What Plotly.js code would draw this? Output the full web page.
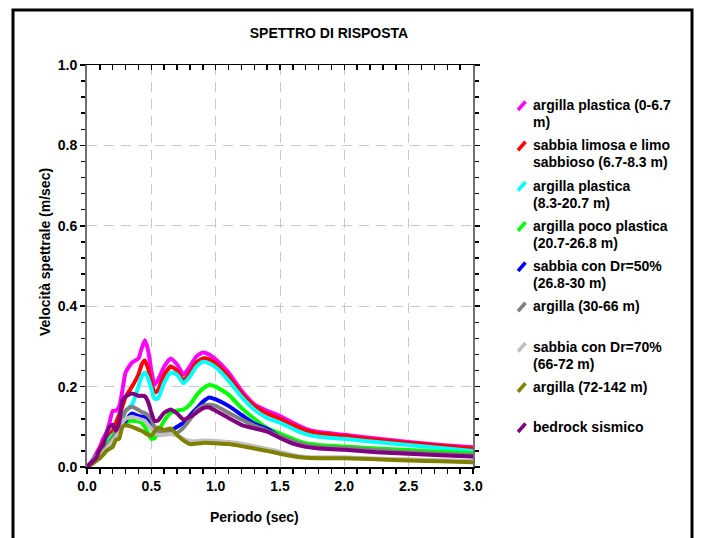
<!DOCTYPE html>
<html>
<head>
<meta charset="utf-8">
<script src="https://cdn.plot.ly/plotly-3.0.1.min.js"></script>
<style>
  html, body { margin: 0; padding: 0; background: #fff; }
  #chart { width: 701px; height: 538px; }
</style>
</head>
<body>
<div id="chart"></div>
<script>
// Periodo (s)
const periods = [0, 0.025, 0.05, 0.075, 0.1, 0.125, 0.15, 0.175, 0.2, 0.225, 0.25, 0.275, 0.3, 0.35, 0.4, 0.425, 0.45, 0.475, 0.5, 0.525, 0.55, 0.6, 0.65, 0.7, 0.75, 0.8, 0.85, 0.9, 0.95, 1.0, 1.1, 1.2, 1.3, 1.4, 1.5, 1.6, 1.7, 1.8, 2.0, 2.25, 2.5, 2.75, 3.0];

// Velocità spettrale (m/s) per strato
const argillaPlastica0 = [0, 0.01, 0.02, 0.035, 0.05, 0.07, 0.085, 0.11, 0.14, 0.14, 0.15, 0.19, 0.235, 0.26, 0.27, 0.295, 0.315, 0.29, 0.24, 0.205, 0.215, 0.25, 0.27, 0.255, 0.23, 0.25, 0.275, 0.285, 0.28, 0.268, 0.235, 0.19, 0.156, 0.14, 0.127, 0.11, 0.095, 0.087, 0.08, 0.071, 0.062, 0.055, 0.049];
const sabbiaLimosa = [0, 0.008, 0.018, 0.03, 0.045, 0.06, 0.07, 0.08, 0.09, 0.11, 0.13, 0.15, 0.175, 0.2, 0.23, 0.255, 0.265, 0.245, 0.21, 0.185, 0.19, 0.23, 0.25, 0.24, 0.215, 0.235, 0.26, 0.27, 0.268, 0.258, 0.225, 0.183, 0.152, 0.133, 0.12, 0.105, 0.091, 0.084, 0.077, 0.068, 0.06, 0.053, 0.046];
const argillaPlastica8 = [0, 0.008, 0.017, 0.028, 0.04, 0.05, 0.06, 0.07, 0.08, 0.085, 0.095, 0.12, 0.14, 0.155, 0.2, 0.225, 0.235, 0.22, 0.195, 0.17, 0.17, 0.21, 0.235, 0.23, 0.208, 0.225, 0.25, 0.262, 0.258, 0.248, 0.215, 0.175, 0.143, 0.122, 0.11, 0.095, 0.082, 0.075, 0.07, 0.062, 0.055, 0.047, 0.04];
const argillaPocoPlastica = [0, 0.007, 0.015, 0.025, 0.035, 0.045, 0.055, 0.065, 0.075, 0.09, 0.1, 0.108, 0.11, 0.115, 0.113, 0.11, 0.1, 0.085, 0.07, 0.072, 0.085, 0.115, 0.135, 0.14, 0.143, 0.155, 0.178, 0.195, 0.204, 0.2, 0.18, 0.147, 0.12, 0.097, 0.083, 0.07, 0.059, 0.055, 0.051, 0.046, 0.042, 0.038, 0.034];
const sabbiaDr50 = [0, 0.006, 0.013, 0.02, 0.03, 0.038, 0.045, 0.05, 0.055, 0.075, 0.09, 0.1, 0.115, 0.133, 0.127, 0.125, 0.124, 0.118, 0.105, 0.09, 0.087, 0.087, 0.09, 0.1, 0.11, 0.128, 0.145, 0.162, 0.173, 0.168, 0.152, 0.13, 0.108, 0.095, 0.075, 0.063, 0.053, 0.048, 0.045, 0.04, 0.035, 0.031, 0.027];
const argilla30 = [0, 0.006, 0.013, 0.02, 0.03, 0.04, 0.05, 0.06, 0.07, 0.085, 0.1, 0.12, 0.14, 0.15, 0.142, 0.137, 0.134, 0.128, 0.118, 0.1, 0.09, 0.086, 0.085, 0.085, 0.098, 0.118, 0.14, 0.152, 0.155, 0.152, 0.135, 0.118, 0.103, 0.09, 0.076, 0.064, 0.055, 0.05, 0.047, 0.042, 0.037, 0.033, 0.029];
const sabbiaDr70 = [0, 0.005, 0.011, 0.018, 0.027, 0.035, 0.045, 0.055, 0.065, 0.075, 0.09, 0.11, 0.12, 0.125, 0.12, 0.118, 0.115, 0.105, 0.095, 0.085, 0.08, 0.08, 0.082, 0.078, 0.07, 0.065, 0.064, 0.066, 0.066, 0.065, 0.062, 0.058, 0.052, 0.045, 0.038, 0.03, 0.025, 0.024, 0.024, 0.021, 0.019, 0.017, 0.015];
const argilla72 = [0, 0.005, 0.01, 0.016, 0.022, 0.03, 0.04, 0.045, 0.05, 0.068, 0.07, 0.1, 0.104, 0.1, 0.093, 0.09, 0.085, 0.08, 0.078, 0.088, 0.098, 0.092, 0.096, 0.08, 0.066, 0.057, 0.058, 0.06, 0.06, 0.059, 0.057, 0.052, 0.046, 0.04, 0.033, 0.027, 0.023, 0.022, 0.022, 0.019, 0.016, 0.014, 0.012];
const bedrock = [0, 0.008, 0.015, 0.025, 0.045, 0.055, 0.08, 0.1, 0.105, 0.09, 0.11, 0.165, 0.175, 0.183, 0.177, 0.177, 0.176, 0.162, 0.135, 0.115, 0.115, 0.135, 0.143, 0.133, 0.118, 0.125, 0.135, 0.146, 0.148, 0.14, 0.122, 0.105, 0.096, 0.088, 0.072, 0.058, 0.05, 0.046, 0.043, 0.037, 0.033, 0.029, 0.026];

const seriesNames = [
  'argilla plastica (0-6.7<br>m)',
  'sabbia limosa e limo<br>sabbioso (6.7-8.3 m)',
  'argilla plastica<br>(8.3-20.7 m)',
  'argilla poco plastica<br>(20.7-26.8 m)',
  'sabbia con Dr=50%<br>(26.8-30 m)',
  'argilla (30-66 m)',
  'sabbia con Dr=70%<br>(66-72 m)',
  'argilla (72-142 m)',
  'bedrock sismico'
];
const seriesColors = ['#ff00ff', '#ff0000', '#00ffff', '#00ff00', '#0000ff', '#808080', '#c0c0c0', '#808000', '#800080'];
const seriesValues = [argillaPlastica0, sabbiaLimosa, argillaPlastica8, argillaPocoPlastica, sabbiaDr50, argilla30, sabbiaDr70, argilla72, bedrock];

const xTickVals = [0, 0.5, 1.0, 1.5, 2.0, 2.5, 3.0];
const yTickVals = [0, 0.2, 0.4, 0.6, 0.8, 1.0];

// frame of the plotting area, in pixels
const FIG_W = 701, FIG_H = 538;
const PL = 87, PR = 473, PT = 65, PB = 467;
const fx = p => (p - PL) / (PR - PL);
const fy = p => (PB - p) / (PB - PT);

const FONT = 'Liberation Sans, Arial, Helvetica, sans-serif';
const boldFont = (size) => ({ family: FONT, size: size, color: '#000', weight: 'bold' });

const traces = seriesValues.map((vals, i) => ({
  type: 'scatter',
  mode: 'lines',
  x: periods,
  y: vals,
  name: seriesNames[i].replace('<br>', ' '),
  line: { color: seriesColors[i], width: 4, shape: 'spline', smoothing: 0.5 },
  showlegend: false,
  hoverinfo: 'skip'
}));
// carrier for the top axis
traces.push({ type: 'scatter', x: [], y: [], xaxis: 'x2', yaxis: 'y', showlegend: false, hoverinfo: 'skip' });

// legend drawn as short slanted strokes + bold labels
const shapes = [];
const annotations = [];
const rowStart = 105, rowStep = 40.25, lineGap = 17;
seriesNames.forEach((name, i) => {
  const yc = rowStart + i * rowStep;
  shapes.push({
    type: 'line', xref: 'paper', yref: 'paper',
    x0: fx(518), y0: fy(yc + 5), x1: fx(525.5), y1: fy(yc - 3.5),
    line: { color: seriesColors[i], width: 3.5 }
  });
  name.split('<br>').forEach((txt, k) => {
    annotations.push({
      xref: 'paper', yref: 'paper', x: fx(531), y: fy(yc + k * lineGap),
      xanchor: 'left', yanchor: 'middle', text: txt, showarrow: false,
      font: boldFont(14)
    });
  });
});

// outer frame
shapes.push({
  type: 'rect', xref: 'paper', yref: 'paper',
  x0: fx(13), x1: fx(692), y0: fy(600), y1: fy(10),
  line: { color: '#000', width: 3 }, fillcolor: 'rgba(0,0,0,0)'
});

// axis titles
annotations.push({
  xref: 'paper', yref: 'paper', x: fx(254), y: fy(517),
  xanchor: 'center', yanchor: 'middle', showarrow: false,
  text: 'Periodo (sec)', font: boldFont(14)
});
annotations.push({
  xref: 'paper', yref: 'paper', x: fx(45), y: fy(252),
  xanchor: 'center', yanchor: 'middle', showarrow: false, textangle: -90,
  text: 'Velocità spettrale (m/sec)', font: boldFont(14)
});

const layout = {
  width: FIG_W, height: FIG_H,
  margin: { l: PL, r: FIG_W - PR, t: PT, b: FIG_H - PB, pad: 0 },
  paper_bgcolor: '#fff', plot_bgcolor: '#fff',
  showlegend: false,
  title: {
    text: 'SPETTRO DI RISPOSTA',
    x: 329 / FIG_W, xanchor: 'center', xref: 'container',
    y: 1 - 33 / FIG_H, yanchor: 'middle', yref: 'container',
    font: boldFont(14)
  },
  xaxis: {
    range: [0, 3], tickvals: xTickVals, tickformat: '.1f',
    ticks: 'outside', ticklen: 5, tickwidth: 1.5, tickcolor: '#000',
    showline: true, linecolor: '#000', linewidth: 2,
    showgrid: true, gridcolor: '#c8c8c8', gridwidth: 1, griddash: '10px,7px',
    zeroline: false, tickfont: boldFont(14),
    minor: { dtick: 0.1, ticks: 'outside', ticklen: 5, tickwidth: 1.5, tickcolor: '#000', showgrid: false }
  },
  xaxis2: {
    overlaying: 'x', side: 'top', anchor: 'y', matches: 'x',
    range: [0, 3], tickvals: xTickVals,
    ticks: 'inside', ticklen: 5, tickwidth: 1.5, tickcolor: '#000',
    showline: true, linecolor: '#000', linewidth: 1.5,
    showgrid: false, zeroline: false, showticklabels: false,
    minor: { dtick: 0.1, ticks: 'inside', ticklen: 5, tickwidth: 1.5, tickcolor: '#000', showgrid: false }
  },
  yaxis: {
    range: [0, 1], tickvals: yTickVals, tickformat: '.1f',
    ticks: 'outside', ticklen: 5, tickwidth: 1.5, tickcolor: '#000',
    showline: true, linecolor: '#707070', linewidth: 2, mirror: 'ticks',
    showgrid: true, gridcolor: '#c8c8c8', gridwidth: 1, griddash: '10px,7px',
    zeroline: false, tickfont: boldFont(14),
    minor: { dtick: 0.04, ticks: 'outside', ticklen: 4, tickwidth: 1.5, tickcolor: '#000', showgrid: false }
  },
  shapes: shapes,
  annotations: annotations
};

Plotly.newPlot('chart', traces, layout, { staticPlot: true, displayModeBar: false });
</script>
</body>
</html>
